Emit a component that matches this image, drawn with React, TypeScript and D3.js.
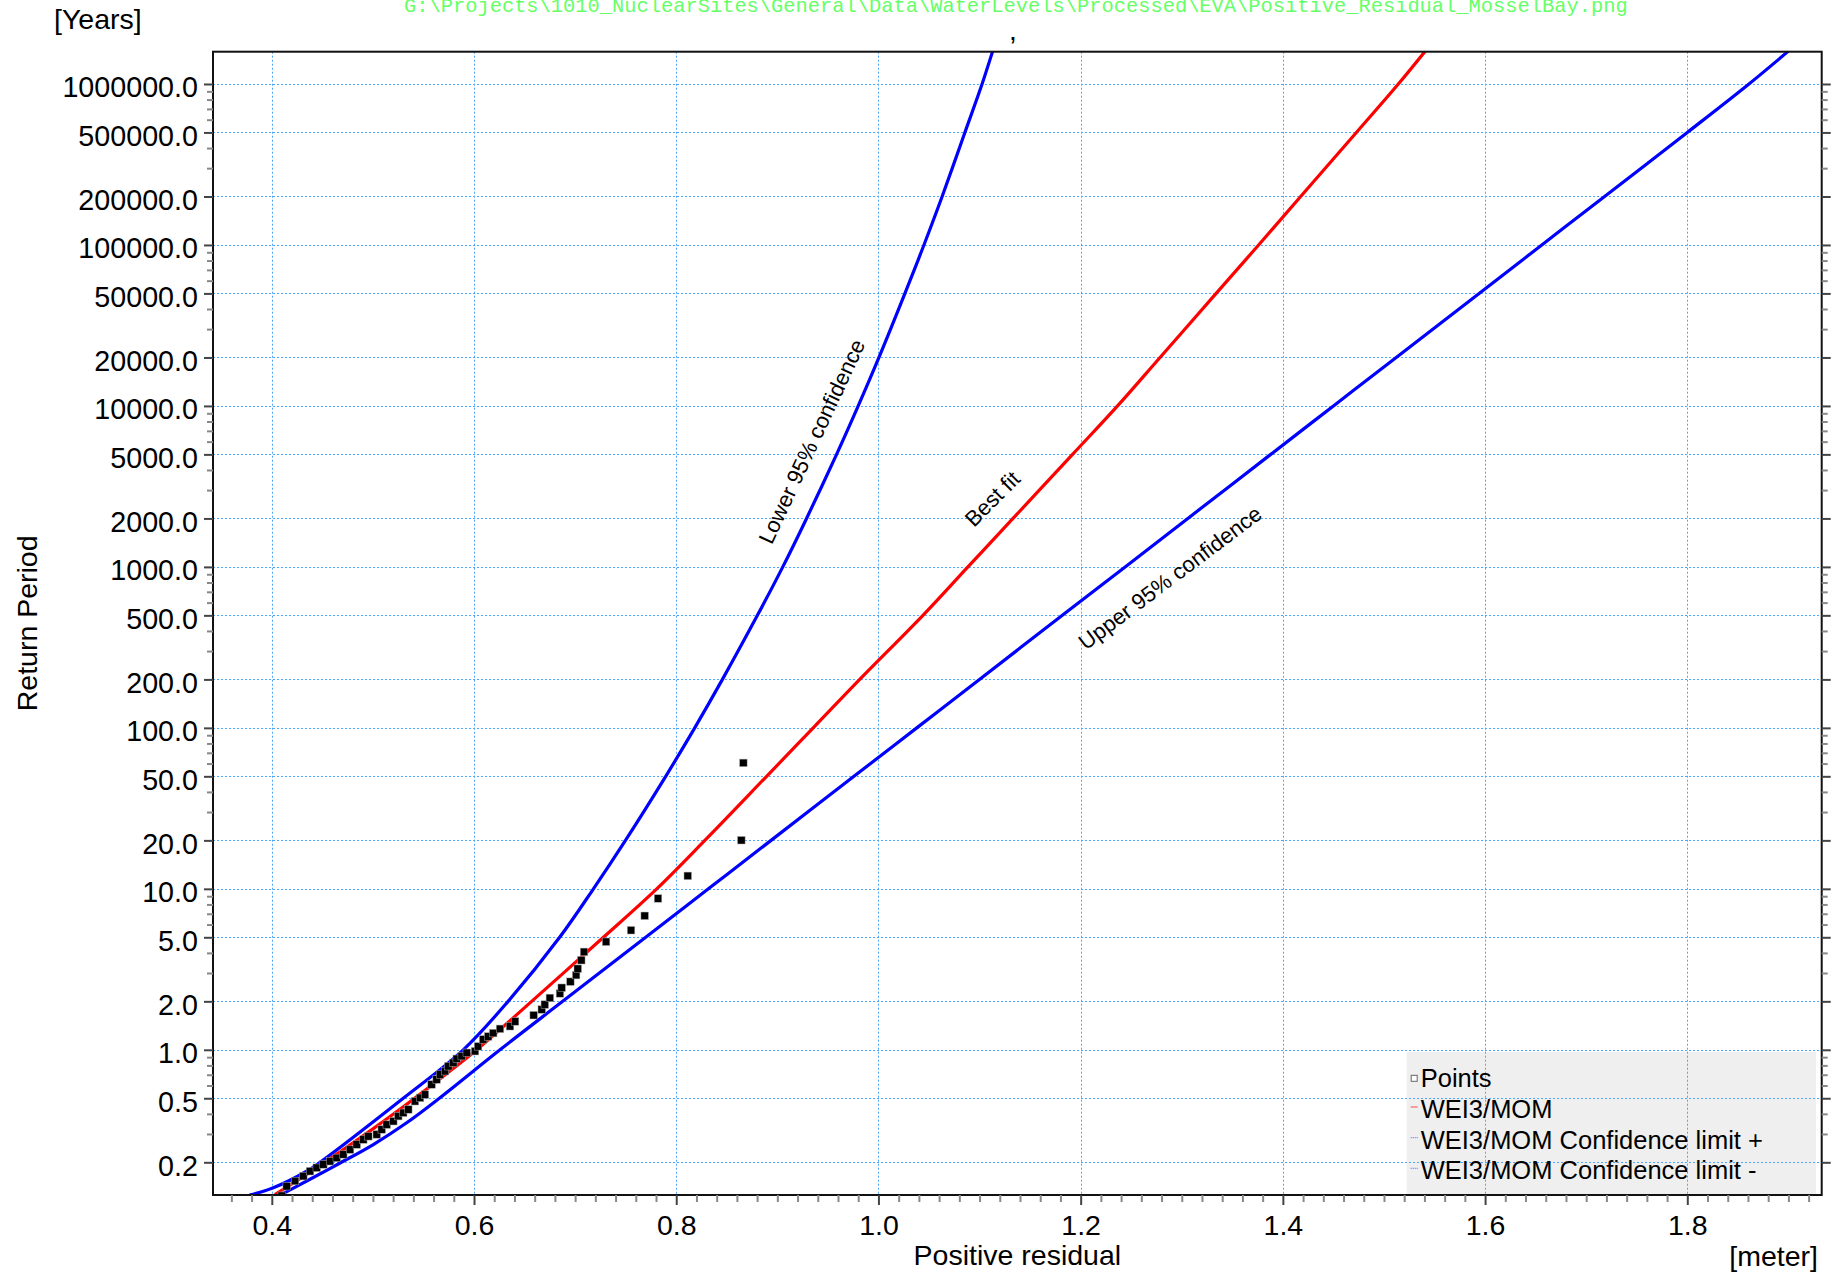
import React, { useEffect, useRef } from 'react';
import * as d3 from 'd3';

// ---- data (level in m, return period in years) ----
const pointLevel = [0.4098, 0.4147, 0.423, 0.4312, 0.4378, 0.4444, 0.451, 0.4576, 0.4642, 0.4707, 0.4774, 0.484, 0.4905, 0.4955, 0.5038, 0.5087, 0.5137, 0.5202, 0.5251, 0.53, 0.535, 0.5416, 0.5466, 0.5515, 0.558, 0.563, 0.5664, 0.5713, 0.5746, 0.5795, 0.5829, 0.5878, 0.5928, 0.601, 0.604, 0.609, 0.614, 0.619, 0.6257, 0.6356, 0.6406, 0.659, 0.667, 0.67, 0.675, 0.685, 0.6867, 0.6953, 0.701, 0.7026, 0.7061, 0.7088, 0.7306, 0.7553, 0.7688, 0.782, 0.8114, 0.8644, 0.8664];
const pointPeriod = [0.124, 0.142, 0.153, 0.164, 0.176, 0.185, 0.194, 0.203, 0.213, 0.224, 0.24, 0.258, 0.277, 0.29, 0.298, 0.32, 0.343, 0.36, 0.387, 0.406, 0.426, 0.479, 0.503, 0.527, 0.609, 0.654, 0.702, 0.736, 0.79, 0.83, 0.879, 0.913, 0.958, 0.98, 1.05, 1.16, 1.21, 1.27, 1.35, 1.4, 1.5, 1.64, 1.78, 1.91, 2.1, 2.24, 2.43, 2.65, 2.91, 3.19, 3.6, 4.06, 4.69, 5.53, 6.8, 8.71, 12.04, 20.04, 60.6];

// best fit (WEI3/MOM)
const fitLevel = [0.403, 0.4345, 0.4675, 0.5004, 0.5334, 0.5664, 0.6027, 0.657, 0.728, 0.7807, 0.8283, 0.8894, 0.9355, 0.9815, 1.044, 1.0885, 1.1331, 1.192, 1.2365, 1.2785, 1.334, 1.376, 1.4176, 1.4727, 1.5142, 1.5408];
const fitPeriod = [0.126, 0.168, 0.232, 0.324, 0.459, 0.661, 1, 2, 5, 10, 20, 50, 100, 200, 500, 1000, 2000, 5000, 10000, 20000, 50000, 100000, 200000, 500000, 1000000, 1600000];

// confidence limit - (left curve)
const lowerLevel = [0.378, 0.4015, 0.4345, 0.4477, 0.53, 0.5894, 0.6337, 0.6847, 0.7181, 0.7498, 0.7896, 0.8183, 0.8457, 0.8803, 0.9054, 0.9289, 0.9586, 0.98, 1.0005, 1.0262, 1.045, 1.063, 1.0855, 1.1025, 1.113];
const lowerPeriod = [0.125, 0.139, 0.176, 0.2, 0.5, 1, 2, 5, 10, 20, 50, 100, 200, 500, 1000, 2000, 5000, 10000, 20000, 50000, 100000, 200000, 500000, 1000000, 1600000];

// confidence limit + (right curve)
const upperLevel = [0.408, 0.4345, 0.4675, 0.5004, 0.5334, 0.5657, 0.6257, 0.6877, 0.7698, 0.8318, 0.8938, 0.9758, 1.0379, 1.0999, 1.1819, 1.244, 1.306, 1.388, 1.45, 1.5121, 1.5941, 1.6561, 1.7182, 1.8, 1.861, 1.9];
const upperPeriod = [0.125, 0.153, 0.198, 0.258, 0.352, 0.5, 1, 2, 5, 10, 20, 50, 100, 200, 500, 1000, 2000, 5000, 10000, 20000, 50000, 100000, 200000, 500000, 1000000, 1600000];

const yMajorTicks = [0.2, 0.5, 1, 2, 5, 10, 20, 50, 100, 200, 500, 1000, 2000, 5000, 10000, 20000, 50000, 100000, 200000, 500000, 1000000];
const yMinorSteps = [3, 4, 6, 7, 8, 9];
const decades = [0.1, 1, 10, 100, 1000, 10000, 100000];
const xMajorTicks = [0.4, 0.6, 0.8, 1.0, 1.2, 1.4, 1.6, 1.8];

const legendLabels = ['Points', 'WEI3/MOM', 'WEI3/MOM Confidence limit +', 'WEI3/MOM Confidence limit -'];
const filePath = 'G:\\Projects\\1010_NuclearSites\\General\\Data\\WaterLevels\\Processed\\EVA\\Positive_Residual_MosselBay.png';

const W = 1838, H = 1278;
const plot = { left: 213, top: 51.7, right: 1821.7, bottom: 1195 };
const FONT = 'Liberation Sans, Arial, sans-serif';

export default function App() {
  const ref = useRef<SVGSVGElement>(null);

  useEffect(() => {
    const svg = d3.select(ref.current);
    svg.selectAll('*').remove();

    const x = d3.scaleLinear().domain([0.34184, 1.93293]).range([plot.left, plot.right]);
    const y = d3.scaleLog().domain([0.1253, 1.587e6]).range([plot.bottom, plot.top]);

    svg.append('rect').attr('width', W).attr('height', H).attr('fill', '#fff');

    // legend background sits under the grid
    const lg = { x: 1406.7, y: 1051.7, w: 409.3, h: 143.3 };
    svg.append('rect')
      .attr('x', lg.x).attr('y', lg.y).attr('width', lg.w).attr('height', lg.h)
      .attr('fill', '#efefef');

    // grid
    const grid = svg.append('g').attr('stroke', '#4da6ff').attr('stroke-width', 1).attr('stroke-dasharray', '2,2');
    grid.selectAll('.hg').data(yMajorTicks).enter().append('line')
      .attr('x1', plot.left).attr('x2', plot.right)
      .attr('y1', d => Math.round(y(d)) + 0.5).attr('y2', d => Math.round(y(d)) + 0.5);
    grid.selectAll('.vg').data(xMajorTicks).enter().append('line')
      .attr('y1', plot.top).attr('y2', plot.bottom)
      .attr('x1', d => Math.round(x(d)) + 0.5).attr('x2', d => Math.round(x(d)) + 0.5);

    svg.append('clipPath').attr('id', 'plotclip').append('rect')
      .attr('x', plot.left).attr('y', plot.top)
      .attr('width', plot.right - plot.left).attr('height', plot.bottom - plot.top);

    const line = d3.line<[number, number]>()
      .x(d => x(d[0]))
      .y(d => y(d[1]))
      .curve(d3.curveCatmullRom.alpha(0.5));

    const curves = svg.append('g').attr('clip-path', 'url(#plotclip)').attr('fill', 'none')
      .attr('stroke-width', 3.2).attr('stroke-linejoin', 'round');
    curves.append('path').datum(lowerLevel.map((v, i) => [v, lowerPeriod[i]] as [number, number]))
      .attr('stroke', '#0000ff').attr('d', line);
    curves.append('path').datum(upperLevel.map((v, i) => [v, upperPeriod[i]] as [number, number]))
      .attr('stroke', '#0000ff').attr('d', line);
    curves.append('path').datum(fitLevel.map((v, i) => [v, fitPeriod[i]] as [number, number]))
      .attr('stroke', '#ff0000').attr('d', line);

    // plotted points
    svg.append('g').attr('clip-path', 'url(#plotclip)')
      .selectAll('rect').data(pointLevel).enter().append('rect')
      .attr('x', (d) => x(d) - 3.75)
      .attr('y', (d, i) => y(pointPeriod[i]) - 3.75)
      .attr('width', 7.5).attr('height', 7.5)
      .attr('fill', '#000').attr('stroke', '#aaa').attr('stroke-width', 0.5);

    // frame
    svg.append('rect')
      .attr('x', plot.left).attr('y', plot.top)
      .attr('width', plot.right - plot.left).attr('height', plot.bottom - plot.top)
      .attr('fill', 'none').attr('stroke', '#111').attr('stroke-width', 2);

    const yMinor: number[] = [];
    decades.forEach(d => yMinorSteps.forEach(m => yMinor.push(d * m)));
    const xMinor = d3.range(0.36, 1.93, 0.02).map(v => Math.round(v * 100) / 100)
      .filter(v => !xMajorTicks.some(t => Math.abs(t - v) < 1e-6));

    const styleAxis = (g: any, color: string) => {
      g.select('.domain').remove();
      g.selectAll('line').attr('stroke', color).attr('stroke-width', 2);
    };

    // left axis
    const left = svg.append('g').attr('transform', `translate(${plot.left},0)`)
      .call(d3.axisLeft(y).tickValues(yMajorTicks).tickFormat(d3.format('.1f')).tickSize(9).tickPadding(6));
    styleAxis(left, '#444');
    left.selectAll('text').attr('font-family', FONT).attr('font-size', 28.7).attr('fill', '#000').attr('dy', 13);
    const leftMinor = svg.append('g').attr('transform', `translate(${plot.left},0)`)
      .call(d3.axisLeft(y).tickValues(yMinor).tickFormat(() => '').tickSize(6));
    styleAxis(leftMinor, '#888');

    // right axis (ticks only)
    const right = svg.append('g').attr('transform', `translate(${plot.right},0)`)
      .call(d3.axisRight(y).tickValues(yMajorTicks).tickFormat(() => '').tickSize(9));
    styleAxis(right, '#444');
    const rightMinor = svg.append('g').attr('transform', `translate(${plot.right},0)`)
      .call(d3.axisRight(y).tickValues(yMinor).tickFormat(() => '').tickSize(6));
    styleAxis(rightMinor, '#888');

    // bottom axis
    const bottom = svg.append('g').attr('transform', `translate(0,${plot.bottom})`)
      .call(d3.axisBottom(x).tickValues(xMajorTicks).tickFormat(d3.format('.1f')).tickSize(10).tickPadding(10));
    styleAxis(bottom, '#444');
    bottom.selectAll('text').attr('font-family', FONT).attr('font-size', 28.5).attr('fill', '#000');
    const bottomMinor = svg.append('g').attr('transform', `translate(0,${plot.bottom})`)
      .call(d3.axisBottom(x).tickValues(xMinor).tickFormat(() => '').tickSize(7));
    styleAxis(bottomMinor, '#888');

    // titles
    const txt = (s: string, tx: number, ty: number, size: number, anchor = 'start', rot = 0) =>
      svg.append('text').text(s)
        .attr('transform', `translate(${tx},${ty}) rotate(${rot})`)
        .attr('font-family', FONT).attr('font-size', size).attr('text-anchor', anchor).attr('fill', '#000');

    txt('[Years]', 54, 29, 28.5);
    txt(',', 1013, 40, 28, 'middle');
    txt('Return Period', 37, (plot.top + plot.bottom) / 2, 28.5, 'middle', -90);
    txt('Positive residual', (plot.left + plot.right) / 2, 1265, 28.5, 'middle');
    txt('[meter]', 1818, 1265.5, 28.5, 'end');

    svg.append('text').text(filePath)
      .attr('x', 404).attr('y', 12)
      .attr('font-family', 'Liberation Mono, Courier New, monospace').attr('font-size', 20.4)
      .attr('fill', '#66ff66');

    // curve annotations
    txt('Lower 95% confidence', x(0.9409), y(5741), 22, 'middle', -65);
    txt('Best fit', x(1.118), y(2455), 22, 'middle', -45);
    txt('Upper 95% confidence', x(1.293), y(785), 22, 'middle', -37);

    // legend entries
    const lgItems = svg.append('g').selectAll('g').data(legendLabels).enter().append('g')
      .attr('transform', (d, i) => `translate(1410.7,${1087.3 + i * 30.7})`);
    lgItems.append('text').text(d => d)
      .attr('x', 10).attr('font-family', FONT).attr('font-size', 25.5).attr('fill', '#000');
    lgItems.filter((d, i) => i === 0).append('rect')
      .attr('x', 0.5).attr('y', -12).attr('width', 6).attr('height', 6)
      .attr('fill', '#fff').attr('stroke', '#666').attr('stroke-width', 1);
    lgItems.filter((d, i) => i > 0).append('line')
      .attr('x1', 0).attr('x2', 7).attr('y1', -11).attr('y2', -11)
      .attr('stroke', (d, i) => i === 0 ? '#ff6666' : '#7777ff')
      .attr('stroke-width', 1.2)
      .attr('stroke-dasharray', (d, i) => i === 0 ? null : '1,1');
  }, []);

  return (
    <div style={{ position: 'absolute', left: 0, top: 0 }}>
      <svg ref={ref} width={W} height={H} style={{ display: 'block' }} />
    </div>
  );
}
